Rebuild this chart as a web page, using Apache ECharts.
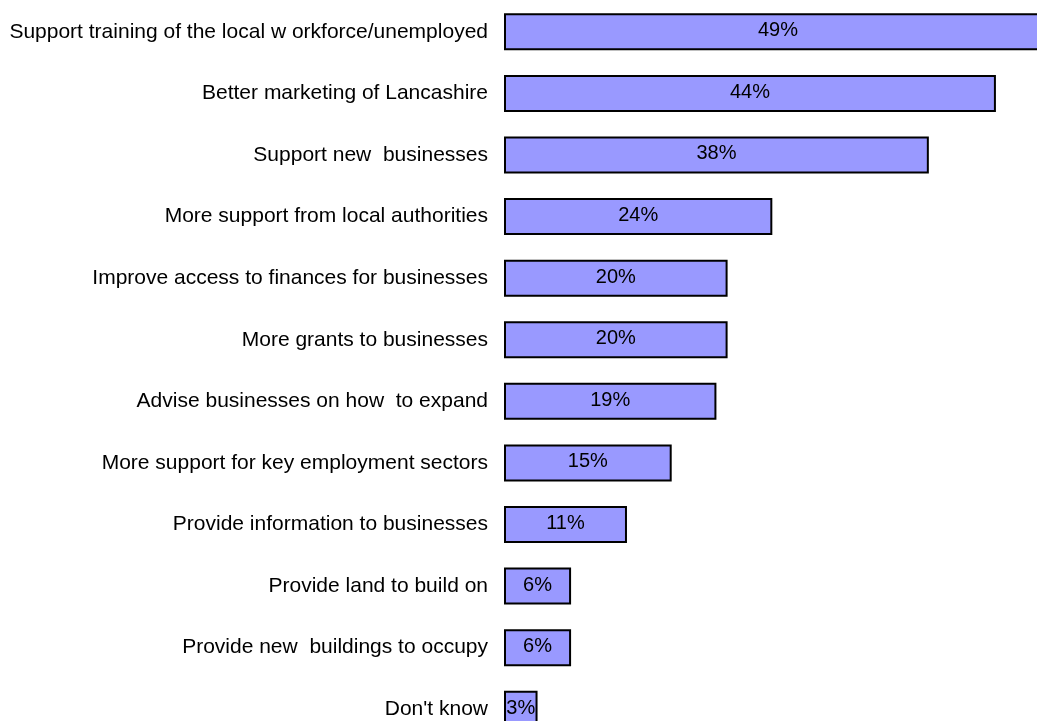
<!DOCTYPE html>
<html>
<head>
<meta charset="utf-8">
<script src="https://cdn.jsdelivr.net/npm/echarts@6/dist/echarts.min.js"></script>
<style>
  html, body { margin: 0; padding: 0; background: #ffffff; }
  #chart { width: 1037px; height: 721px; }
</style>
</head>
<body>
<div id="chart"></div>
<script>
// What businesses want: share of respondents choosing each option (%)
const categories = [
  'Support training of the local w orkforce/unemployed',
  'Better marketing of Lancashire',
  'Support new  businesses',
  'More support from local authorities',
  'Improve access to finances for businesses',
  'More grants to businesses',
  'Advise businesses on how  to expand',
  'More support for key employment sectors',
  'Provide information to businesses',
  'Provide land to build on',
  'Provide new  buildings to occupy',
  "Don't know"
];
const percentages = [49, 44, 38, 24, 20, 20, 19, 15, 11, 6, 6, 3];

const FONT = '"Liberation Sans", Arial, sans-serif';
const chart = echarts.init(document.getElementById('chart'), null, { renderer: 'canvas' });

chart.setOption({
  animation: false,
  backgroundColor: '#ffffff',
  textStyle: { fontFamily: FONT },
  grid: {
    left: 504,
    top: 1,
    width: 559,
    height: 739,
    containLabel: false,
    outerBoundsMode: 'none'
  },
  xAxis: {
    type: 'value',
    min: 0,
    max: 50,
    show: false
  },
  yAxis: {
    type: 'category',
    data: categories,
    inverse: true,
    axisLine: { show: false },
    axisTick: { show: false },
    axisLabel: {
      margin: 16,
      color: '#000000',
      fontSize: 21,
      fontFamily: FONT
    }
  },
  series: [{
    type: 'bar',
    data: percentages,
    barWidth: 37,
    itemStyle: {
      color: '#9999ff',
      borderColor: '#000000',
      borderWidth: 2
    },
    label: {
      show: true,
      position: 'inside',
      formatter: '{c}%',
      color: '#000000',
      fontSize: 20,
      offset: [0, -1],
      fontFamily: FONT
    }
  }]
});
</script>
</body>
</html>
